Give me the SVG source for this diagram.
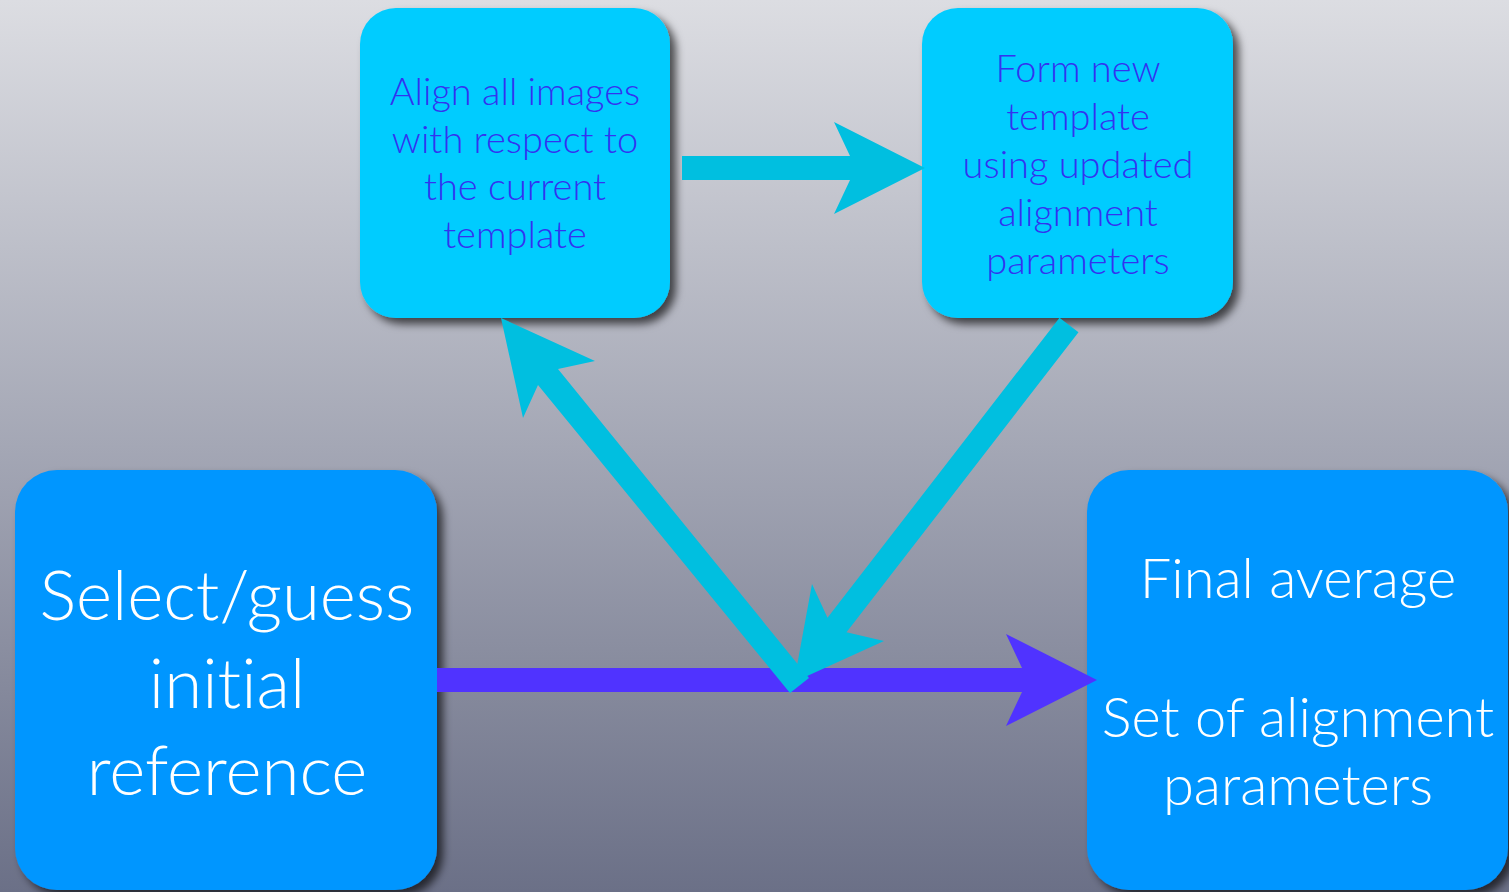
<svg xmlns="http://www.w3.org/2000/svg" width="1509" height="892" viewBox="0 0 1509 892">
<defs>
<linearGradient id="bg" x1="0" y1="0" x2="0" y2="1">
<stop offset="0" stop-color="#dcdde2"/>
<stop offset="0.5" stop-color="#a4a7b5"/>
<stop offset="1" stop-color="#6b7087"/>
</linearGradient>
<filter id="sh" x="-10%" y="-10%" width="125%" height="125%">
<feDropShadow dx="6" dy="6" stdDeviation="4" flood-color="#000" flood-opacity="0.65"/>
</filter>
</defs>
<style>
.top{fill:#00ccff;filter:url(#sh)}
.bot{fill:#0096ff;filter:url(#sh)}
text{font-variant-ligatures:none;font-feature-settings:"liga" 0,"clig" 0,"dlig" 0}
.tt{font-family:Lato,"Open Sans","Liberation Sans",sans-serif;font-weight:300;font-size:38px;fill:#3333f0;text-anchor:middle}
.bt{font-family:Lato,"Open Sans","Liberation Sans",sans-serif;font-weight:300;fill:#ffffff;text-anchor:middle}
.cy{fill:#00bfe0}
.pu{fill:#5033ff}
</style>
<rect width="1509" height="892" fill="url(#bg)"/>
<g id="node-align">
<rect class="top" x="360" y="8" width="310" height="310" rx="36"/>
<text class="tt" x="515" y="105">Align all images</text>
<text class="tt" x="515" y="153">with respect to</text>
<text class="tt" x="515" y="200">the current</text>
<text class="tt" x="515" y="248">template</text>
</g>
<g id="node-form">
<rect class="top" x="922" y="8" width="311" height="310" rx="36"/>
<text class="tt" x="1078" y="82">Form new</text>
<text class="tt" x="1078" y="130">template</text>
<text class="tt" x="1078" y="178">using updated</text>
<text class="tt" x="1078" y="226">alignment</text>
<text class="tt" x="1078" y="274">parameters</text>
</g>
<g id="node-select">
<rect class="bot" x="15" y="470" width="422" height="420" rx="42"/>
<text class="bt" x="227" y="620" font-size="69">Select/guess</text>
<text class="bt" x="227" y="708" font-size="69">initial</text>
<text class="bt" x="227" y="795" font-size="69">reference</text>
</g>
<g id="node-final">
<rect class="bot" x="1087" y="470" width="421" height="420" rx="42"/>
<text class="bt" x="1298" y="598" font-size="56">Final average</text>
<text class="bt" x="1298" y="737" font-size="56">Set of alignment</text>
<text class="bt" x="1298" y="805" font-size="56">parameters</text>
</g>
<g id="connectors">
<polygon class="cy" points="682,156 850,156 834,122 925,168 834,214 850,180 682,180"/>
<polygon class="pu" points="437,668 1022,668 1006,634 1097,680 1006,726 1022,692 437,692"/>
<polygon class="cy" points="501,318 595,361 558,369 809,678 790,693 538,385 523,418"/>
<polygon class="cy" points="794,682 812,584 827.5,617.7 1059.5,317.7 1078.5,332.3 846.5,632.3 884,641"/>
</g>
</svg>
